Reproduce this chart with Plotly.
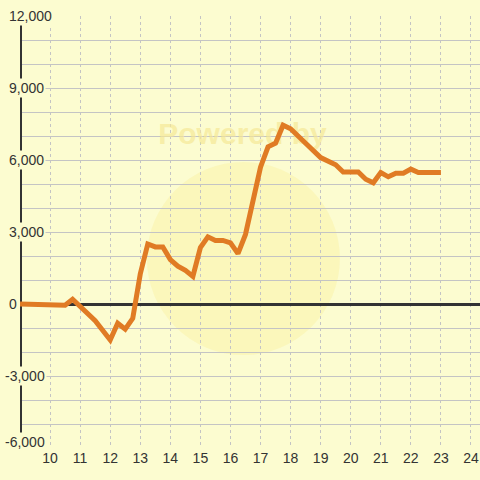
import plotly.graph_objects as go

x_vals = [9, 10, 10.5, 10.75, 11.25, 11.5, 12.0, 12.25, 12.5, 12.75, 13.0, 13.25, 13.5, 13.75,
          14.0, 14.25, 14.5, 14.75, 15.0, 15.25, 15.5, 15.75, 16.0, 16.25, 16.5, 16.75, 17.0,
          17.25, 17.5, 17.75, 18.0, 18.5, 19.0, 19.5, 19.75, 20.25, 20.5, 20.75, 21.0, 21.25,
          21.5, 21.75, 22.0, 22.25, 23.0]
y_vals = [0, 0, -50, 200, -450, -700, -1500, -800, -1050, -600, 1250, 2500, 2380, 2380,
          1850, 1580, 1400, 1150, 2350, 2800, 2650, 2650, 2550, 2100, 2900, 4300, 5700,
          6550, 6700, 7450, 7300, 6700, 6100, 5800, 5500, 5500, 5200, 5050, 5480, 5300,
          5450, 5450, 5620, 5480, 5480]

x_ticks = list(range(10, 25))
y_label_vals = [12000, 9000, 6000, 3000, 0, -3000, -6000]
watermark = "Powered by"

BG = "#fcfcd0"
FONT = "Liberation Sans, Arial, sans-serif"

fig = go.Figure()
# faint watermark text, drawn beneath the data line
fig.add_trace(go.Scatter(x=[16.4], y=[7000], mode="text", text=[f"<b>{watermark}</b>"],
                         textfont=dict(size=30, color="rgba(245,232,150,0.7)", family=FONT),
                         hoverinfo="skip"))
fig.add_trace(go.Scatter(x=x_vals, y=y_vals, mode="lines",
                         line=dict(color="#e07b24", width=5), hoverinfo="skip"))

fig.update_layout(
    width=480, height=480,
    margin=dict(l=20, r=0, t=16, b=32),
    paper_bgcolor=BG, plot_bgcolor=BG,
    showlegend=False,
    font=dict(family=FONT, size=14, color="#333333"),
    xaxis=dict(range=[9, 24.3], tickmode="array", tickvals=x_ticks,
               ticktext=[str(t) for t in x_ticks], showgrid=True,
               gridcolor="#c4c4c4", griddash="3px,3px", gridwidth=1,
               zeroline=False, showline=False, ticks="", ticklen=0,
               automargin=False,
               tickfont=dict(size=14, color="#333333")),
    yaxis=dict(range=[-6000, 12000], dtick=1000, tick0=0, showticklabels=False,
               showgrid=True, gridcolor="#c4c4c4", gridwidth=1.3,
               zeroline=True, zerolinecolor="#333333", zerolinewidth=3,
               showline=False, ticks="", automargin=False),
)

# faint watermark disc
fig.add_shape(type="circle", xref="x", yref="y", x0=13.22, x1=19.64, y0=-2125, y1=5917,
              fillcolor="rgba(250,238,150,0.35)", line=dict(width=0), layer="below")

# y axis line
fig.add_shape(type="line", xref="x", yref="y", x0=9, x1=9, y0=-6000, y1=12000,
              line=dict(color="#333333", width=4), layer="between")

# y labels over the axis line
for v in y_label_vals:
    px = 3 if v < 0 else 7
    fig.add_annotation(text=f"{v:,}", xref="paper", yref="y",
                       x=(px - 20) / 460, y=v, xanchor="left", yanchor="middle",
                       showarrow=False, bgcolor=BG, borderpad=1,
                       yshift=6 if v == -6000 else 0,
                       font=dict(size=14, color="#333333", family=FONT))

fig.write_html("out.html", config={"displayModeBar": False},
               post_script="document.body.style.margin='0';document.body.style.background='" + BG + "';")
